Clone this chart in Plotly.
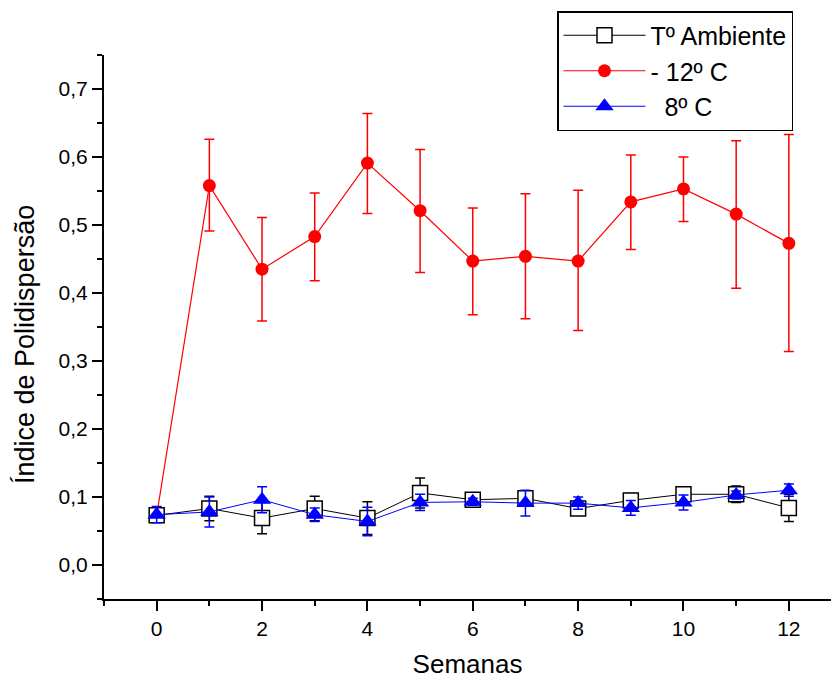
import plotly.graph_objects as go

# ---- data ----
weeks = list(range(13))

amb_vals = [0.073, 0.083, 0.069, 0.083, 0.069, 0.106, 0.096, 0.098, 0.083, 0.095, 0.104, 0.104, 0.084]
amb_err = [0.010, 0.018, 0.023, 0.018, 0.024, 0.022, 0.007, 0.010, 0.009, 0.010, 0.010, 0.012, 0.020]

m12_vals = [0.073, 0.558, 0.435, 0.483, 0.591, 0.521, 0.447, 0.454, 0.447, 0.534, 0.553, 0.516, 0.473]
m12_err_plus = [0.007, 0.068, 0.076, 0.064, 0.073, 0.090, 0.078, 0.092, 0.104, 0.069, 0.047, 0.108, 0.160]
m12_err_minus = [0.007, 0.067, 0.076, 0.065, 0.074, 0.091, 0.079, 0.092, 0.102, 0.070, 0.048, 0.109, 0.159]

c8_vals = [0.074, 0.078, 0.096, 0.074, 0.064, 0.092, 0.093, 0.091, 0.091, 0.084, 0.092, 0.103, 0.110]
c8_err = [0.012, 0.022, 0.019, 0.010, 0.021, 0.012, 0.005, 0.019, 0.009, 0.011, 0.011, 0.006, 0.009]

names = ["T\u00ba Ambiente", "- 12\u00ba C", "\u00a0\u00a08\u00ba C"]
x_title = "Semanas"
y_title = "\u00cdndice de Polidispers\u00e3o"

FONT = "Liberation Sans, Arial, sans-serif"

fig = go.Figure()

fig.add_trace(go.Scatter(
    x=weeks, y=m12_vals, name=names[1], mode="lines+markers", legendrank=2,
    line=dict(color="#FF0000", width=1.2),
    marker=dict(symbol="circle", size=13, color="#FF0000"),
    error_y=dict(type="data", symmetric=False, array=m12_err_plus, arrayminus=m12_err_minus,
                 color="#FF0000", thickness=1.5, width=5),
))
fig.add_trace(go.Scatter(
    x=weeks, y=amb_vals, name=names[0], mode="lines+markers", legendrank=1,
    line=dict(color="black", width=1),
    marker=dict(symbol="square", size=15, color="white", line=dict(color="black", width=1.5)),
    error_y=dict(type="data", array=amb_err, color="black", thickness=1.5, width=5),
))
fig.add_trace(go.Scatter(
    x=weeks, y=c8_vals, name=names[2], mode="lines+markers", legendrank=3,
    line=dict(color="#0000FF", width=1),
    marker=dict(symbol="triangle-up", size=16, color="#0000FF"),
    error_y=dict(type="data", array=c8_err, color="#0000FF", thickness=1.5, width=5),
))

fig.update_layout(
    width=831, height=679,
    margin=dict(l=104, r=0, t=55, b=80),
    paper_bgcolor="white", plot_bgcolor="white",
    separators=",.",
    font=dict(family=FONT, size=21, color="black"),
    showlegend=True,
    legend=dict(
        x=(557 - 104) / 727, y=(599 - 11) / 544, xanchor="left", yanchor="top",
        bgcolor="white", bordercolor="black", borderwidth=1.5,
        font=dict(family=FONT, size=25, color="black"),
        itemwidth=82, traceorder="normal",
    ),
    xaxis=dict(
        range=[-1, 12.8], tickmode="array", tickvals=[0, 2, 4, 6, 8, 10, 12],
        showgrid=False, zeroline=False, showline=True, linecolor="black", linewidth=2,
        ticks="outside", ticklen=10, tickwidth=2, tickcolor="black",
        tickfont=dict(size=21),
        minor=dict(dtick=1, tick0=0, ticks="outside", ticklen=5, tickwidth=2, tickcolor="black", showgrid=False),
        title=dict(text=x_title, font=dict(size=26), standoff=17),
    ),
    yaxis=dict(
        range=[-0.05, 0.75], tickmode="array", tickvals=[0, 0.1, 0.2, 0.3, 0.4, 0.5, 0.6, 0.7],
        tickformat=".1f",
        showgrid=False, zeroline=False, showline=True, linecolor="black", linewidth=2,
        ticks="outside", ticklen=10, tickwidth=2, tickcolor="black",
        tickfont=dict(size=21),
        minor=dict(dtick=0.05, tick0=0, ticks="outside", ticklen=5, tickwidth=2, tickcolor="black", showgrid=False),
    ),
    annotations=[dict(
        text=y_title, textangle=-90, xref="paper", yref="paper",
        x=-(104 - 25) / 727, y=(599 - 345) / 544, xanchor="center", yanchor="middle",
        showarrow=False, font=dict(family=FONT, size=27, color="black"),
    )],
)

fig.write_html("out.html")
